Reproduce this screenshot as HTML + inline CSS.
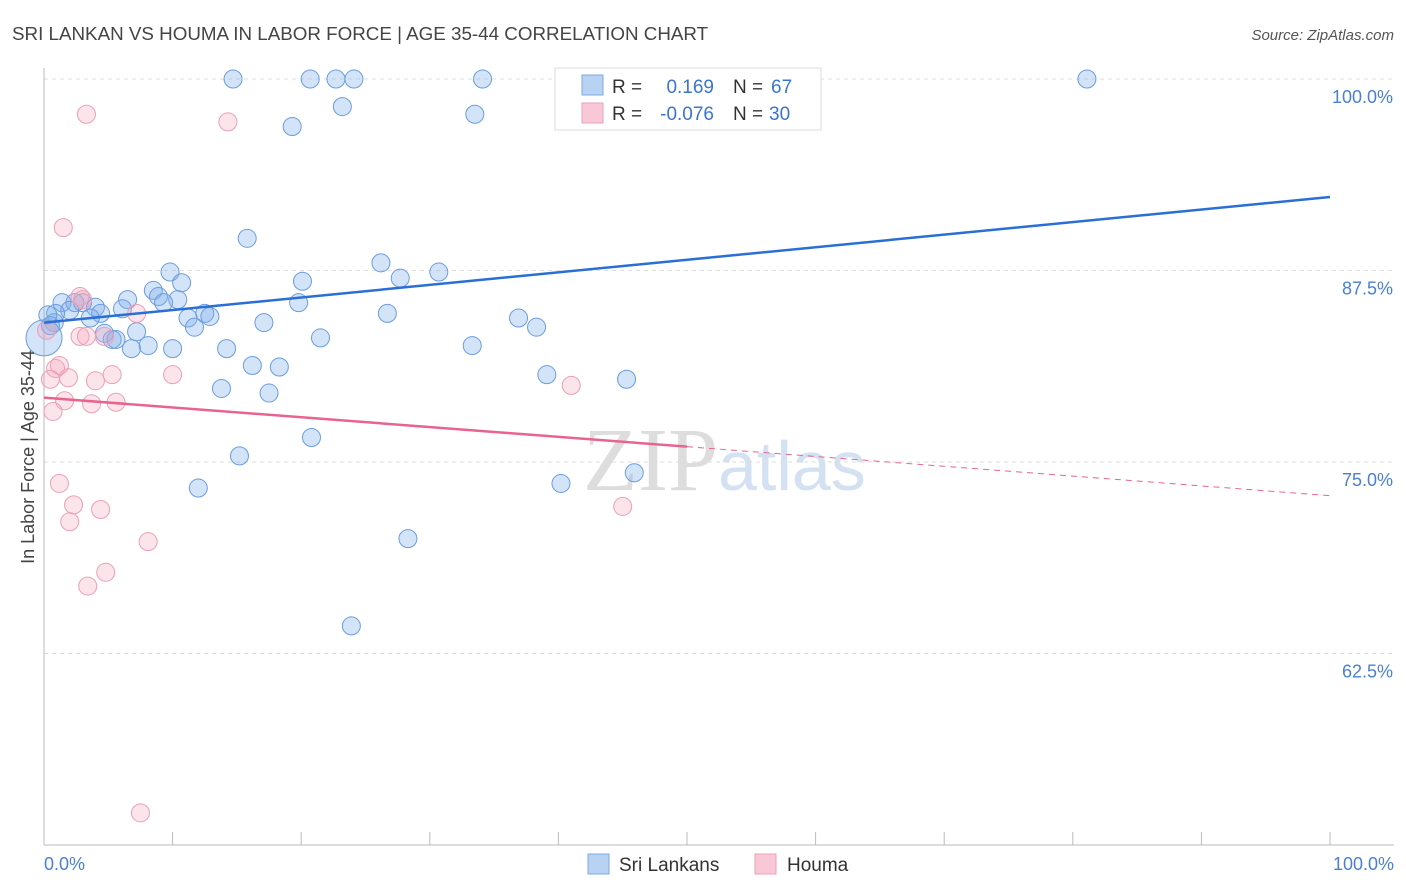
<!DOCTYPE html>
<html><head><meta charset="utf-8"><style>
body{margin:0;background:#fff;font-family:"Liberation Sans",sans-serif;}
#c{position:relative;width:1406px;height:892px;overflow:hidden;}
</style></head><body>
<div id="c">
<svg id="s" width="1406" height="892" xmlns="http://www.w3.org/2000/svg">
<text x="12" y="40" font-size="18.8" fill="#444">SRI LANKAN VS HOUMA IN LABOR FORCE | AGE 35-44 CORRELATION CHART</text>
<text x="1394" y="40" font-size="15" fill="#555" font-style="italic" text-anchor="end">Source: ZipAtlas.com</text>
<text x="718" y="490" font-size="90" fill="#ddd" text-anchor="end" font-family="Liberation Serif">ZIP</text>
<text x="718" y="490" font-size="70" fill="#d3e1f3">atlas</text>
<g id="grid"></g><g id="axes"></g><g id="pts"></g><g id="trend"></g>
<text transform="translate(34,457) rotate(-90)" font-size="18" fill="#444" text-anchor="middle">In Labor Force | Age 35-44</text>
<text x="44" y="870" font-size="18" fill="#4a7fd4">0.0%</text>
<text x="1394" y="870" font-size="18" fill="#4a7fd4" text-anchor="end">100.0%</text>
<g>
<rect x="555" y="68" width="266" height="62" fill="#fff" stroke="#ddd"/>
<rect x="582" y="75" width="21" height="20" fill="#b8d2f4" stroke="#7ea8e0"/>
<rect x="582" y="103" width="21" height="20" fill="#f9c8d6" stroke="#ef9fb8"/>
<text x="612" y="93" font-size="19" fill="#333">R = </text><text x="714" y="93" font-size="19" fill="#3a74d0" text-anchor="end">0.169</text>
<text x="733" y="93" font-size="19" fill="#333">N = </text><text x="771" y="93" font-size="19" fill="#3a74d0">67</text>
<text x="612" y="120" font-size="19" fill="#333">R = </text><text x="714" y="120" font-size="19" fill="#3a74d0" text-anchor="end">-0.076</text>
<text x="733" y="120" font-size="19" fill="#333">N = </text><text x="769" y="120" font-size="19" fill="#3a74d0">30</text>
</g>
<g>
<rect x="588" y="854" width="21" height="20" fill="#b8d2f4" stroke="#7ea8e0"/>
<text x="619" y="871" font-size="19" fill="#333">Sri Lankans</text>
<rect x="755" y="854" width="21" height="20" fill="#f9c8d6" stroke="#ef9fb8"/>
<text x="787" y="871" font-size="19" fill="#333">Houma</text>
</g>
</svg></div>
<script>
const yTicks=[100,87.5,75,62.5];
const yTickLabels=["100.0%","87.5%","75.0%","62.5%"];
const blueX=[14.7,20.7,22.7,24.1,34.1,81.1,41.7,23.2,33.5,19.3,15.8,26.2,9.8,30.7,20.1,10.7,27.7,8.5,6.5,8.9,10.4,1.4,3.0,2.4,9.3,19.8,4.0,6.1,12.5,2.0,0.9,4.4,11.2,12.9,17.1,26.7,36.9,3.6,38.3,11.7,7.2,4.7,21.5,5.3,5.6,8.1,10.0,6.8,14.2,33.3,0.8,0.5,16.2,18.3,39.1,45.3,13.8,17.5,20.8,15.2,45.9,12.0,40.2,28.3,23.9,0.3,0];
const blueY=[100,100,100,100,100,100,100,98.2,97.7,96.9,89.6,88.0,87.4,87.4,86.8,86.7,87.0,86.2,85.6,85.8,85.6,85.4,85.4,85.4,85.4,85.4,85.1,85.0,84.7,84.9,84.7,84.7,84.4,84.5,84.1,84.7,84.4,84.4,83.8,83.8,83.5,83.4,83.1,83.0,83.0,82.6,82.4,82.4,82.4,82.6,84.1,83.9,81.3,81.2,80.7,80.4,79.8,79.5,76.6,75.4,74.3,73.3,73.6,70.0,64.3,84.6,83.1];
const pinkX=[3.3,14.3,1.5,2.8,3.0,7.2,0.2,2.8,3.3,4.7,1.2,0.9,0.5,1.9,4.0,5.3,10.0,41.0,1.6,3.7,5.6,0.7,1.2,2.3,4.4,2.0,45.0,8.1,4.8,3.4,7.5];
const pinkY=[97.7,97.2,90.3,85.8,85.6,84.7,83.6,83.2,83.2,83.2,81.3,81.1,80.4,80.5,80.3,80.7,80.7,80.0,79.0,78.8,78.9,78.3,73.6,72.2,71.9,71.1,72.1,69.8,67.8,66.9,52.1];
const blueTrend=[84.1,92.3];
const pinkTrend=[79.2,72.8];
const xs=v=>44+v*12.86, ys=v=>79+(100-v)*15.32;
const NS="http://www.w3.org/2000/svg";
function mk(p,t,a){const e=document.createElementNS(NS,t);for(const k in a)e.setAttribute(k,a[k]);p.appendChild(e);return e;}
const g=document.getElementById('grid'),ax=document.getElementById('axes'),pts=document.getElementById('pts'),tr=document.getElementById('trend');
yTicks.forEach((t,i)=>{
 const l=mk(g,'line',{x1:44,x2:1394,y1:ys(t),y2:ys(t),stroke:'#ddd','stroke-dasharray':'4,4'});
 
 
 const tx=mk(g,'text',{x:1393,y:ys(t)+24,'font-size':18,fill:'#4a7fd4','text-anchor':'end'});
 tx.textContent=yTickLabels[i];
 
 
});
let a=mk(ax,'line',{x1:44,x2:44,y1:68,y2:845,stroke:'#bbb'});


a=mk(ax,'line',{x1:44,x2:1394,y1:845,y2:845,stroke:'#bbb'});


for(let i=0;i<=10;i++){const t=mk(ax,'line',{x1:xs(i*10),x2:xs(i*10),y1:832,y2:845,stroke:'#bbb'});
 
 }
blueX.forEach((x,i)=>{const c=mk(pts,'circle',{cx:xs(x),cy:ys(blueY[i]),r:(i==blueX.length-1?18:9),fill:'rgba(130,175,235,0.35)',stroke:'#6a9de0','stroke-width':1});
 
 });
pinkX.forEach((x,i)=>{const c=mk(pts,'circle',{cx:xs(x),cy:ys(pinkY[i]),r:9,fill:'rgba(245,165,190,0.3)',stroke:'#ec9fb6','stroke-width':1});
 
 });
let t=mk(tr,'line',{x1:xs(0),y1:ys(blueTrend[0]),x2:xs(100),y2:ys(blueTrend[1]),stroke:'#2a6fd6','stroke-width':2.5});


const pm=pinkTrend[0]+(pinkTrend[1]-pinkTrend[0])*0.5;
t=mk(tr,'line',{x1:xs(0),y1:ys(pinkTrend[0]),x2:xs(50),y2:ys(pm),stroke:'#e8648e','stroke-width':2.5});


t=mk(tr,'line',{x1:xs(50),y1:ys(pm),x2:xs(100),y2:ys(pinkTrend[1]),stroke:'#e8648e','stroke-width':1,'stroke-dasharray':'6,5'});


</script>
</body></html>
